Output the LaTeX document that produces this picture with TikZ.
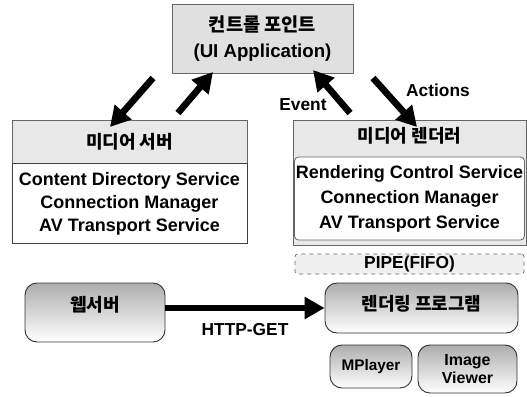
\documentclass[tikz,border=0pt]{standalone}
\usepackage{fontspec}
\setmainfont{Liberation Sans}
\newfontfamily\kr{Noto Sans CJK KR}
\usepackage{tikz}
\usetikzlibrary{arrows.meta}
\usetikzlibrary{positioning}

\tikzset{
  engtxt/.style={font=\fontsize{13}{16}\selectfont\bfseries, inner sep=0.75pt},
  kortxt/.style={font=\kr\fontsize{13.5}{16}\selectfont\bfseries, inner sep=0.75pt},
  cpbox/.style={draw=black!60, line width=0.6pt, fill=black!12, align=center, inner sep=2pt},
  hdrbox/.style={draw=black!60, line width=0.5pt, fill=black!9, inner sep=1pt},
  bodybox/.style={draw=black!75, line width=0.6pt, fill=white, align=center, inner sep=1pt},
  pipebox/.style={draw=black!60, dashed, line width=0.5pt, fill=black!6, rounded corners=2pt, inner sep=1pt},
  progbox/.style={draw=black!80, line width=0.7pt, rounded corners=9pt, top color=black!32, bottom color=white, inner sep=1pt},
  bigarrow/.style={line width=5pt, -{Triangle[length=15pt,width=16pt]}},
}

\begin{document}
\begin{tikzpicture}[x=0.75pt,y=0.75pt,yscale=-1,xscale=1]
\useasboundingbox (0,0) rectangle (527,396);
% control point
\node[cpbox, minimum width=135.75pt, minimum height=51.75pt, font=\fontsize{14}{19.5}\selectfont\bfseries] (cp) at (262.5,38.5) {{\kr 컨트롤 포인트}\\(UI Application)};
% media server
\node[hdrbox, kortxt, minimum width=176.25pt, minimum height=32.25pt] (srvhd) at (129.5,141.5) {미디어 서버};
\node[bodybox, minimum width=176.25pt, minimum height=60pt, anchor=north, font=\fontsize{13.5}{17}\selectfont\bfseries] (srvbd) at (srvhd.south) {Content Directory Service\\Connection Manager\\AV Transport Service};
% media renderer
\node[hdrbox, minimum width=174.75pt, minimum height=93.75pt] (rnd) at (409.5,182.5) {};
\node[kortxt] (rndhd) at (409.5,136) {미디어 렌더러};
\node[bodybox, draw=black!60, rounded corners=3pt, minimum width=172.5pt, minimum height=62.25pt, font=\fontsize{13.5}{18.75}\selectfont\bfseries] (rndbd) at (409.5,198.5) {Rendering Control Service\\Connection Manager\\AV Transport Service};
\node[pipebox, engtxt, minimum width=171.75pt, minimum height=15pt] (pipe) at (409.5,264) {PIPE(FIFO)};
% programs
\node[progbox, kortxt, text height=10pt, text depth=12pt, minimum width=105pt, minimum height=44.25pt] (web) at (95,312.5) {웹서버};
\node[progbox, kortxt, text height=10pt, text depth=6pt, minimum width=144.75pt, minimum height=37.5pt] (prog) at (421.5,308) {렌더링 프로그램};
\node[progbox, engtxt, font=\fontsize{11.5}{13}\selectfont\bfseries, minimum width=61.5pt, minimum height=32.25pt] (mplayer) at (371,366.5) {MPlayer};
\node[progbox, engtxt, font=\fontsize{12}{13.5}\selectfont\bfseries, align=center, minimum width=74.25pt, minimum height=36pt] (viewer) at (467.5,369) {Image\\Viewer};
% arrow ends
\coordinate (a1s) at (153,78);
\coordinate (a1e) at (110,127);
\coordinate (a2s) at (178,113);
\coordinate (a2e) at (213,72);
\coordinate (a3s) at (350,113);
\coordinate (a3e) at (313,70);
\coordinate (a4s) at (373,78);
\coordinate (a4e) at (417,127);
\draw[bigarrow] (a1s) -- (a1e);
\draw[bigarrow] (a2s) -- (a2e);
\draw[bigarrow] (a3s) -- (a3e);
\draw[bigarrow] (a4s) -- (a4e);
\node[engtxt] (act) at (438,90) {Actions};
\node[engtxt] (evt) at (303,105) {Event};
\draw[bigarrow] (web.east |- prog.west) -- (prog.west) node[midway, below=8pt, engtxt] (http) {HTTP-GET};
\end{tikzpicture}
\end{document}
